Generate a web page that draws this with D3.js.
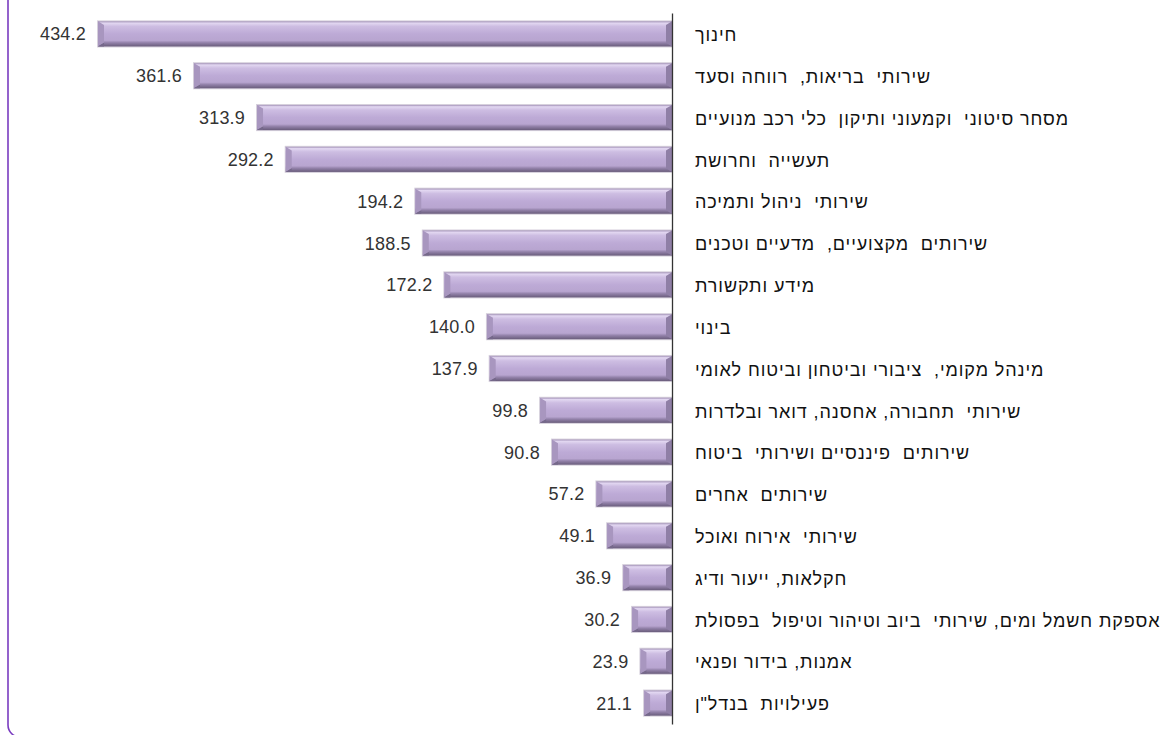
<!DOCTYPE html>
<html><head><meta charset="utf-8">
<script src="https://cdn.jsdelivr.net/npm/d3@7"></script>
<style>
html,body{margin:0;padding:0;background:#fff;}
svg{display:block;}
</style></head>
<body>
<svg id="chart" width="1173" height="735"></svg>
<script>
const categories = [
  "חינוך",
  "שירותי  בריאות,  רווחה וסעד",
  "מסחר סיטוני  וקמעוני ותיקון  כלי רכב מנועיים",
  "תעשייה  וחרושת",
  "שירותי  ניהול ותמיכה",
  "שירותים  מקצועיים,  מדעיים וטכנים",
  "מידע ותקשורת",
  "בינוי",
  "מינהל מקומי,  ציבורי וביטחון וביטוח לאומי",
  "שירותי  תחבורה, אחסנה, דואר ובלדרות",
  "שירותים  פיננסיים ושירותי  ביטוח",
  "שירותים  אחרים",
  "שירותי  אירוח ואוכל",
  "חקלאות, ייעור ודיג",
  "אספקת חשמל ומים, שירותי  ביוב וטיהור וטיפול  בפסולת",
  "אמנות, בידור ופנאי",
  "פעילויות  בנדל\"ן"
];
const values = [434.2, 361.6, 313.9, 292.2, 194.2, 188.5, 172.2, 140.0, 137.9, 99.8, 90.8, 57.2, 49.1, 36.9, 30.2, 23.9, 21.1];

const svg = d3.select("#chart");
const axisX = 672;
const x = d3.scaleLinear().domain([0, 434.2]).range([axisX, 98]);
const y = d3.scaleBand().domain(categories).range([13, 724]).paddingInner(0.4).paddingOuter(0.2);

const defs = svg.append("defs");
const g1 = defs.append("linearGradient").attr("id","barGrad").attr("x1",0).attr("y1",0).attr("x2",0).attr("y2",1);
[[0,"#a392b8"],[0.07,"#e2d7f1"],[0.2,"#cdbde2"],[0.5,"#bdaad6"],[0.76,"#b8a5d0"],[0.85,"#9382aa"],[1,"#695c7b"]]
  .forEach(([o,c])=>g1.append("stop").attr("offset",o).attr("stop-color",c));

// frame border (partially visible)
svg.append("rect").attr("x",8).attr("y",-30).attr("width",1300).attr("height",767)
  .attr("rx",12).attr("fill","none").attr("stroke","#7a3cc0").attr("stroke-width",1.6);

const rows = svg.append("g").selectAll("g").data(categories).join("g");

// shadow
rows.append("rect")
  .attr("x",(d,i)=>x(values[i])-1).attr("y",d=>y(d)-1)
  .attr("width",(d,i)=>axisX-x(values[i])+1).attr("height",y.bandwidth()+2)
  .attr("fill","#d6d0dc");

rows.append("rect")
  .attr("x",(d,i)=>x(values[i])).attr("y",d=>y(d))
  .attr("width",(d,i)=>axisX-x(values[i])).attr("height",y.bandwidth())
  .attr("fill","url(#barGrad)");

// left bevel
const bev = 6;
rows.append("path")
  .attr("d",(d,i)=>{const x0=x(values[i]),y0=y(d),h=y.bandwidth();
    return `M${x0},${y0}L${x0+bev},${y0+bev*0.6}L${x0+bev},${y0+h-bev*0.6}L${x0},${y0+h}Z`;})
  .attr("fill","#a896bf");
rows.append("path")
  .attr("d",(d,i)=>{const x0=x(values[i]),y0=y(d),h=y.bandwidth();
    return `M${x0},${y0+h}L${x0+bev},${y0+h-bev*0.6}L${x0+bev},${y0+h}Z`;})
  .attr("fill","#75688a");
// right bevel
rows.append("path")
  .attr("d",(d,i)=>{const x1=axisX,y0=y(d),h=y.bandwidth();
    return `M${x1},${y0}L${x1-bev},${y0+bev*0.6}L${x1-bev},${y0+h-bev*0.6}L${x1},${y0+h}Z`;})
  .attr("fill","#8f7fa6");

// value labels
rows.append("text")
  .attr("x",(d,i)=>x(values[i])-12).attr("y",d=>y(d)+y.bandwidth()/2)
  .attr("dy","0.36em").attr("text-anchor","end")
  .style("font-family","'Liberation Sans', Arial, sans-serif").style("font-size","18px")
  .style("letter-spacing","0.2px")
  .attr("fill","#333").text((d,i)=>values[i].toFixed(1));

// category labels
rows.append("text")
  .attr("x",695).attr("y",d=>y(d)+y.bandwidth()/2)
  .attr("dy","0.4em").attr("direction","rtl").attr("text-anchor","end")
  .style("white-space","pre")
  .style("font-family","'Liberation Sans', Arial, 'DejaVu Sans', sans-serif").style("font-size","18px")
  .style("letter-spacing","0.9px")
  .attr("fill","#111").text(d=>d);

// axis line
svg.append("g").attr("transform",`translate(${axisX},0)`)
  .call(d3.axisRight(y).tickSize(0).tickFormat(""))
  .call(g=>g.select(".domain").attr("stroke","#333").attr("stroke-width",1.3));
</script>
</body></html>
